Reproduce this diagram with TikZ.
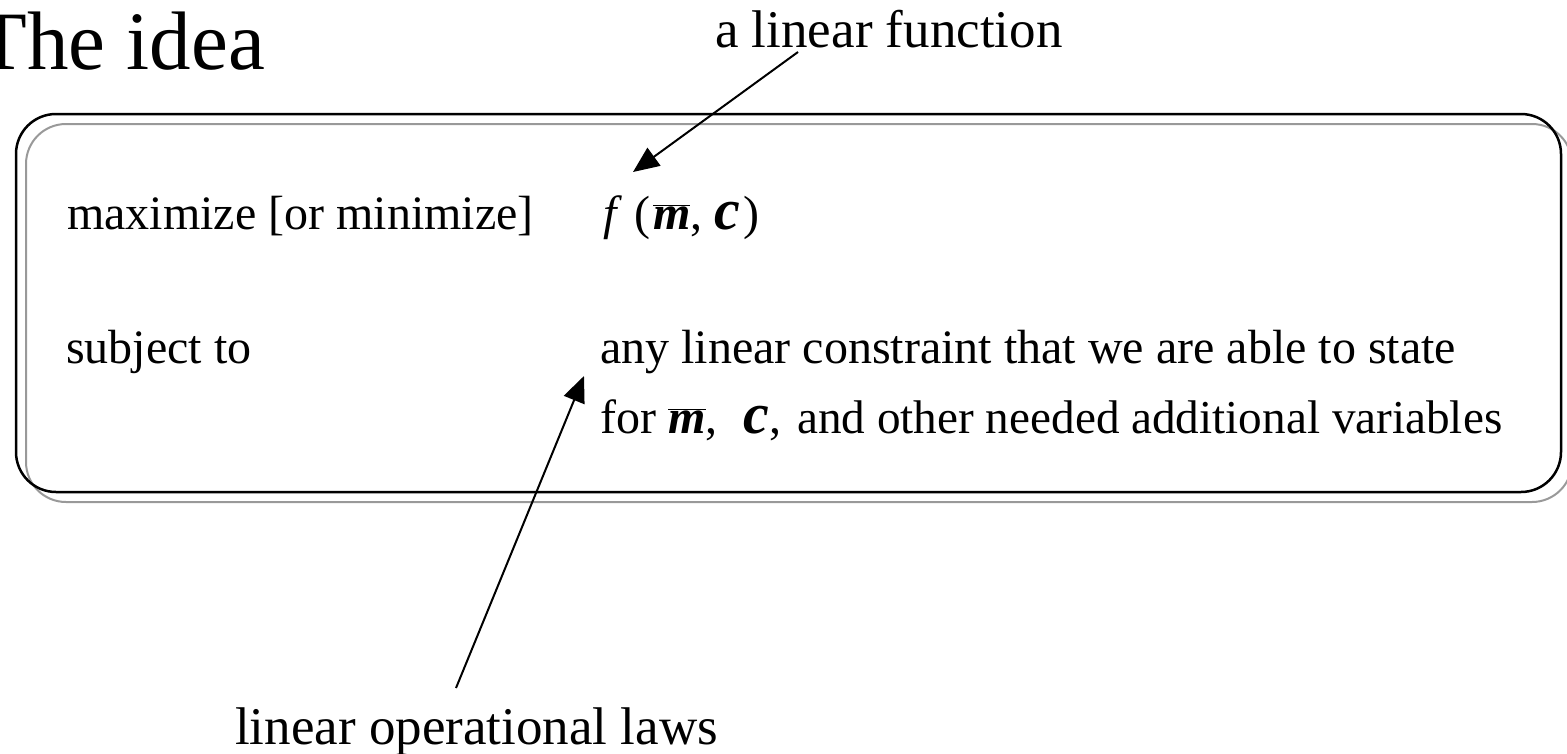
\documentclass[tikz,border=0pt]{standalone}
\usepackage{fontspec}
\setmainfont{Liberation Serif}
\usetikzlibrary{arrows.meta}
\newcommand\barm{$\overline{\mbox{\bfseries\itshape m}}$}
\newcommand\bc{{\fontsize{58}{60}\selectfont\textbf{\textit{c}}}}
\begin{document}
\begin{tikzpicture}[x=1pt,y=-1pt,
  txt/.style={inner sep=0pt, anchor=base west, font=\fontsize{48}{52}\selectfont},
  note/.style={inner sep=0pt, anchor=base west, font=\fontsize{53}{58}\selectfont},
  ttl/.style={inner sep=0pt, anchor=base east, font=\fontsize{83}{90}\selectfont},
  shadowbox/.style={draw=black!40, line width=2pt, rounded corners=40pt},
  framebox/.style={draw=black, line width=2.5pt, rounded corners=40pt},
  pointer/.style={draw=black, line width=2pt, -{Triangle[length=26pt,width=22pt]}}]
\useasboundingbox (0,0) rectangle (1567,753);
\path[shadowbox] (26,124) rectangle (1572,502);
\path[framebox] (16,114) rectangle (1561,492);
\node[ttl] (title) at (265,69) {The idea};
\node[note] (lin) at (715,47) {a linear function};
\node[txt] (max) at (67,229) {maximize [or minimize]};
\node[txt] (fun) at (603,229) {\textit{f}\hspace{12pt}(\hspace{3pt}\barm,\hspace{12pt}\bc\hspace{3pt})};
\node[txt] (subj) at (66,363) {subject to};
\node[txt] (any) at (600,363) {any linear constraint that we are able to state};
\node[txt] (for) at (600,433) {for \barm,\hspace{26pt}\bc,\hspace{16pt}{\fontsize{47.2}{52}\selectfont and other needed additional variables}};
\node[note] (laws) at (235,744) {linear operational laws};
\coordinate (t1) at (798,52);
\coordinate (h1) at (633,172);
\coordinate (t2) at (456,688);
\coordinate (h2) at (584,376);
\path[pointer] (t1) -- (h1);
\path[pointer] (t2) -- (h2);
\end{tikzpicture}
\end{document}
